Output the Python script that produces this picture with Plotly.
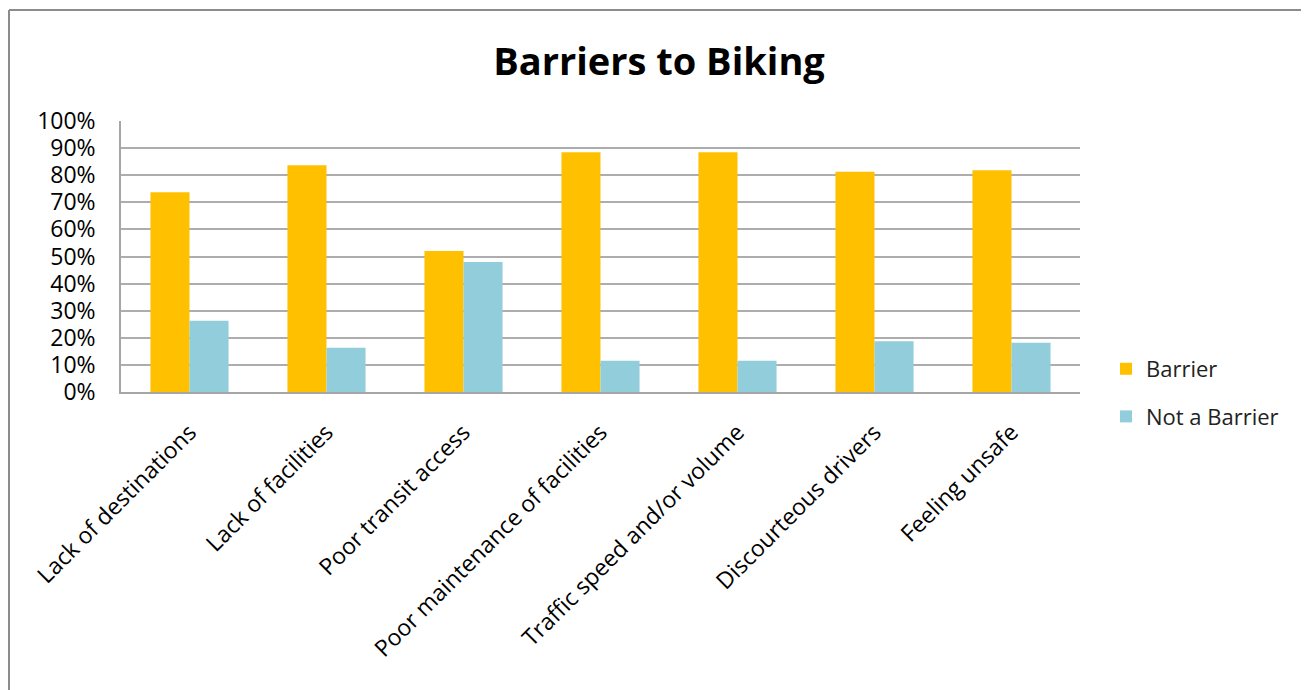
import plotly.graph_objects as go

categories = ["Lack of destinations", "Lack of facilities", "Poor transit access",
              "Poor maintenance of facilities", "Traffic speed and/or volume",
              "Discourteous drivers", "Feeling unsafe"]
barrier = [0.737, 0.837, 0.520, 0.885, 0.885, 0.813, 0.818]
not_barrier = [0.263, 0.163, 0.480, 0.115, 0.115, 0.187, 0.182]
y_ticks = [i / 10 for i in range(11)]

OFF = 8  # browser body margin
W, H = 1309 - OFF, 690 - OFF
L, R, T, B = 121 - OFF, 1080 - OFF, 121 - OFF, 392 - OFF  # plot area in fig px

def px(x):  # screen px -> paper
    return (x - OFF - L) / (R - L)

def py(y):
    return (B - (y - OFF)) / (B - T)

FONT = "Open Sans"

fig = go.Figure()
fig.add_trace(go.Bar(x=categories, y=barrier, name="Barrier",
                     marker=dict(color="#FFC000", line=dict(width=0)),
                     legendgroup="a"))
fig.add_trace(go.Bar(x=categories, y=not_barrier, name="Not a Barrier",
                     marker=dict(color="#92CDDC", line=dict(width=0)),
                     legendgroup="b"))

fig.update_layout(
    width=W, height=H,
    margin=dict(l=L, r=W - R, t=T, b=H - B, autoexpand=False),
    paper_bgcolor="white", plot_bgcolor="white",
    barmode="group", bargap=0.43, bargroupgap=0,
    font=dict(family=FONT, size=22, color="#000000"),
    title=dict(text="<b>Barriers to Biking</b>", x=(659 - OFF) / W, xanchor="center",
               y=1 - (62 - OFF) / H, yanchor="middle",
               font=dict(family=FONT, size=38, color="#000000")),
    showlegend=True,
    legend=dict(x=px(1106), xanchor="left", y=py(348), yanchor="top",
                font=dict(family=FONT, size=22, color="#222222"),
                tracegroupgap=16, itemwidth=30, bgcolor="rgba(0,0,0,0)"),
    xaxis=dict(showgrid=False, tickangle=-45, showline=True, linecolor="#A6A6A6",
               linewidth=1.5, ticks="", ticklabelstandoff=16,
               tickfont=dict(family=FONT, size=23, color="#000000")),
    yaxis=dict(range=[0, 1], tickvals=y_ticks, tickformat=".0%", showgrid=True,
               gridcolor="#ADADAD", gridwidth=1.5, showline=True, linecolor="#A6A6A6",
               linewidth=1.5, ticks="", ticklabelstandoff=19, zeroline=False,
               tickfont=dict(family=FONT, size=23, color="#000000")),
)

# outer frame (left and top edges)
fig.add_shape(type="line", xref="paper", yref="paper",
              x0=px(9), y0=py(700), x1=px(9), y1=py(10),
              line=dict(color="#8C8C8C", width=2))
fig.add_shape(type="line", xref="paper", yref="paper",
              x0=px(9), y0=py(10), x1=px(1320), y1=py(10),
              line=dict(color="#8C8C8C", width=2))

fig.write_html("out.html")
